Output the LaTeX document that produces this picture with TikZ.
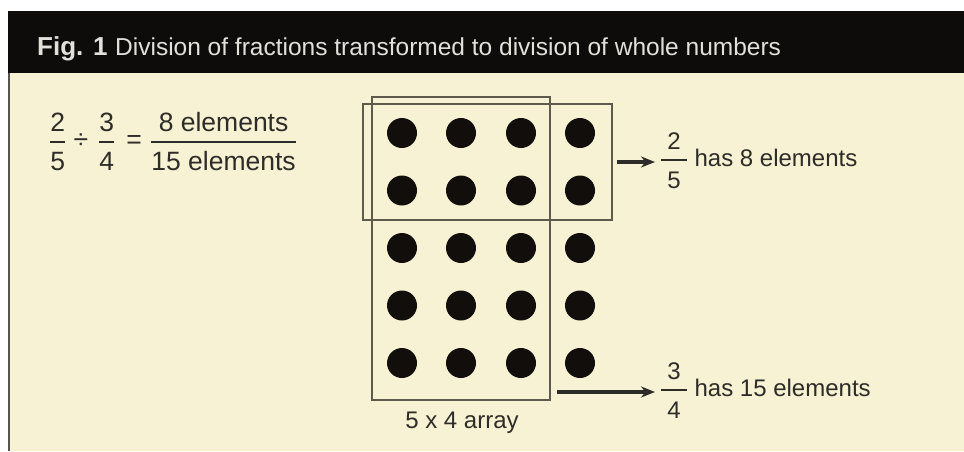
\documentclass[tikz,border=0pt]{standalone}
\usepackage{fontspec}
\setmainfont{Liberation Sans}
\usetikzlibrary{arrows.meta}
\definecolor{cream}{HTML}{F6F2D3}
\definecolor{ink}{HTML}{2E2C28}
\definecolor{boxline}{HTML}{5E5A4C}
\definecolor{headbg}{HTML}{0E0C0B}
\definecolor{headtxt}{HTML}{E2E0DA}
\definecolor{dotc}{HTML}{110E0C}
\definecolor{edgec}{HTML}{57544B}
% fraction: [padding]{numerator}{denominator}
\newcommand{\myfr}[3][0pt]{\ensuremath{\displaystyle{\hbox{\kern#1#2\kern#1}\above2pt\hbox{\kern#1\rule{0pt}{22pt}#3\kern#1}}}}
\tikzset{
  dot/.style={circle, fill=dotc, minimum size=30pt, inner sep=0pt},
  arraybox/.style={draw=boxline, line width=1.8pt, inner sep=0pt, outer sep=0pt},
  lbl/.style={text=ink, inner sep=0pt, font=\fontsize{24}{28}\selectfont},
  bigl/.style={text=ink, inner sep=0pt, font=\fontsize{26.5}{30}\selectfont},
  arr/.style={draw=ink, line width=3.2pt, -{Stealth[length=14pt,width=11pt]}},
}
\begin{document}
\begin{tikzpicture}[x=1pt, y=-1pt]
\useasboundingbox (0,0) rectangle (964,451);
\fill[white] (0,0) rectangle (964,451);
% panel
\fill[headbg] (8,11) rectangle (964,73);
\fill[cream] (8,73) rectangle (964,451);
\draw[edgec, line width=2pt] (9,73) -- (9,451);
% header text
\node[anchor=base west, inner sep=0pt, text=headtxt, font=\fontsize{26}{30}\selectfont\bfseries] (fig) at (37,55) {Fig. 1};
\node[anchor=base west, inner sep=0pt, text=headtxt, font=\fontsize{24.5}{28}\selectfont] (title) at (115,55) {Division of fractions transformed to division of whole numbers};
% equation
\node[bigl, anchor=base west] (f1) at (49,148) {\myfr{2}{5}};
\node[bigl, anchor=base] (div) at (81,148) {÷};
\node[bigl, anchor=base west] (f2) at (98,148) {\myfr{3}{4}};
\node[bigl, anchor=base] (eqs) at (134,148) {=};
\node[bigl, anchor=base west] (f3) at (150,148) {\myfr{8 elements}{15 elements}};
% dots
\foreach \r [count=\i] in {133,190.5,248,305.5,363}
  \foreach \c [count=\j] in {402,461,521,580}
    \node[dot] (d\i\j) at (\c,\r) {};
% boxes
\node[arraybox, minimum width=178pt, minimum height=303pt] (tall) at (461,248.5) {};
\node[arraybox, minimum width=249pt, minimum height=116pt] (wide) at (487.5,162) {};
% labels
\node[lbl, anchor=base west] (lab1) at (660,166) {\myfr[6pt]{2}{5} has 8 elements};
\node[lbl, anchor=base west] (lab2) at (660,396) {\myfr[6pt]{3}{4} has 15 elements};
\node[lbl, anchor=base] (cap) at (462,428) {5 x 4 array};
% arrows
\coordinate (a1s) at ([xshift=5pt]wide.east);
\coordinate (a2s) at ([xshift=7pt,yshift=8pt]tall.south east);
\draw[arr, shorten >=5pt] (a1s) -- (a1s -| lab1.west);
\draw[arr, shorten >=5pt] (a2s) -- (a2s -| lab2.west);
\end{tikzpicture}
\end{document}
